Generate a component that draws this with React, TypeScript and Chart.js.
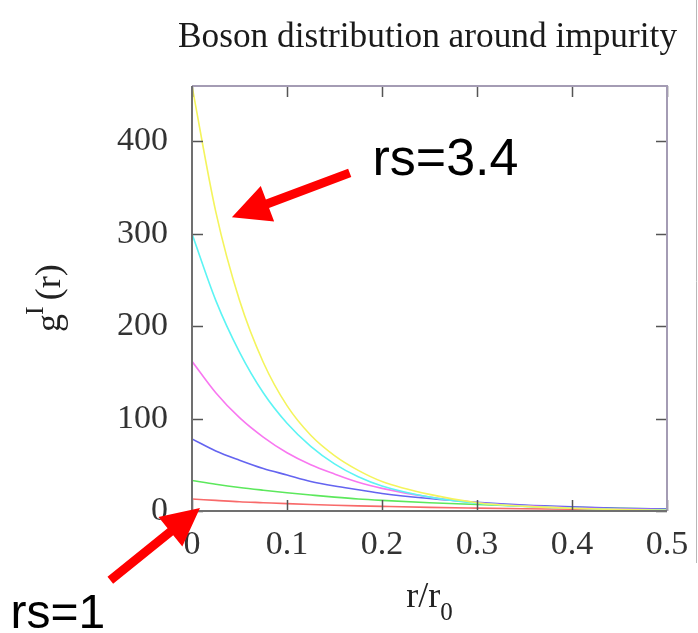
import React, { useEffect, useRef } from 'react';
import { Chart, registerables } from 'chart.js';

Chart.register(...registerables);

// ---- data ----
const rValues = [0, 0.025, 0.05, 0.075, 0.1, 0.125, 0.15, 0.175, 0.2, 0.25, 0.3, 0.35, 0.4, 0.45, 0.5];
const gYellow = [460, 324, 228, 161, 114, 82, 60, 44, 32, 18, 9, 5, 3, 1.5, 0.8];
const gCyan = [300, 228, 172, 128, 95, 70, 51, 37, 27, 15, 8.5, 5, 3, 1.7, 1];
const gMagenta = [162, 128, 101, 80, 63, 50, 40, 31, 24.5, 15, 9, 5.5, 3.3, 2, 1.2];
const gBlue = [78, 65, 55, 46, 39, 32, 27, 23, 19, 13.5, 9.5, 6.5, 4.5, 3, 2];
const gGreen = [33, 29, 25.5, 22.5, 19.7, 17.3, 15, 13, 11.5, 9, 7, 5.3, 4, 3, 2.3];
const gRed = [13, 11.5, 10, 9, 8, 7.1, 6.3, 5.6, 5, 3.9, 3.1, 2.4, 1.9, 1.5, 1.2];

const xTicks = [0, 0.1, 0.2, 0.3, 0.4, 0.5];
const yTicks = [0, 100, 200, 300, 400];

const titleText = 'Boson distribution around impurity';
const labelHigh = 'rs=3.4';
const labelLow = 'rs=1';

const series = [
  { values: gYellow, color: '#f4f45c' },
  { values: gCyan, color: '#5cf4f4' },
  { values: gMagenta, color: '#f877f0' },
  { values: gBlue, color: '#6464f0' },
  { values: gGreen, color: '#5ce85c' },
  { values: gRed, color: '#f86a6a' },
];

// annotation anchors in data units (r, g)
const arrowHigh = { tail: [0.166, 366], tip: [0.042, 318], text: [0.19, 364] };
const arrowLow = { tail: [-0.086, -75], tip: [0.0084, 3.3], text: [-0.191, -127] };

const SERIF = '"Liberation Serif", "Times New Roman", serif';
const SANS = '"Liberation Sans", Arial, sans-serif';

function drawArrow(ctx: CanvasRenderingContext2D, x1: number, y1: number, x2: number, y2: number) {
  const dx = x2 - x1, dy = y2 - y1;
  const len = Math.hypot(dx, dy);
  const ux = dx / len, uy = dy / len;
  const nx = -uy, ny = ux;
  const headLen = 38, headW = 19, shaftW = 4.5;
  const bx = x2 - ux * headLen, by = y2 - uy * headLen;
  ctx.save();
  ctx.fillStyle = '#ff0000';
  ctx.beginPath();
  ctx.moveTo(x1 + nx * shaftW, y1 + ny * shaftW);
  ctx.lineTo(bx + nx * shaftW, by + ny * shaftW);
  ctx.lineTo(bx + nx * headW, by + ny * headW);
  ctx.lineTo(x2, y2);
  ctx.lineTo(bx - nx * headW, by - ny * headW);
  ctx.lineTo(bx - nx * shaftW, by - ny * shaftW);
  ctx.lineTo(x1 - nx * shaftW, y1 - ny * shaftW);
  ctx.closePath();
  ctx.fill();
  ctx.restore();
}

const framePlugin = {
  id: 'gnuplotFrame',
  afterDraw(chart: any) {
    const { ctx, chartArea } = chart;
    const { left, right, top, bottom } = chartArea;
    const xs = chart.scales.x, ys = chart.scales.y;
    ctx.save();
    // ticks (inward)
    ctx.strokeStyle = '#555555';
    ctx.lineWidth = 1.5;
    ctx.beginPath();
    for (const v of yTicks) {
      const y = Math.round(ys.getPixelForValue(v)) + 0.5;
      ctx.moveTo(left, y); ctx.lineTo(left + 11, y);
      ctx.moveTo(right, y); ctx.lineTo(right - 11, y);
    }
    for (const v of xTicks) {
      const x = Math.round(xs.getPixelForValue(v)) + 0.5;
      ctx.moveTo(x, bottom); ctx.lineTo(x, bottom - 11);
      ctx.moveTo(x, top); ctx.lineTo(x, top + 11);
    }
    ctx.stroke();
    // frame
    ctx.lineWidth = 2;
    ctx.strokeStyle = '#a49cb4';
    ctx.beginPath();
    ctx.moveTo(left, top); ctx.lineTo(right, top); ctx.lineTo(right, bottom);
    ctx.stroke();
    ctx.strokeStyle = '#707070';
    ctx.beginPath();
    ctx.moveTo(left, top); ctx.lineTo(left, bottom); ctx.lineTo(right, bottom);
    ctx.stroke();
    // slide edge line at right
    ctx.strokeStyle = '#b8b8b8';
    ctx.lineWidth = 1;
    ctx.beginPath();
    ctx.moveTo(chart.width - 1.5, 0); ctx.lineTo(chart.width - 1.5, bottom + 52);
    ctx.stroke();
    ctx.restore();
  },
};

const textPlugin = {
  id: 'texts',
  afterDraw(chart: any) {
    const { ctx, chartArea } = chart;
    const xs = chart.scales.x, ys = chart.scales.y;
    const cx = (chartArea.left + chartArea.right) / 2;
    ctx.save();
    // title
    ctx.fillStyle = '#1a1a1a';
    ctx.font = `35.3px ${SERIF}`;
    ctx.textAlign = 'center';
    ctx.textBaseline = 'alphabetic';
    ctx.fillText(titleText, cx - 2, 47);

    // x axis title r/r0
    ctx.fillStyle = '#222222';
    ctx.textAlign = 'left';
    ctx.font = `36px ${SERIF}`;
    const main = 'r/r';
    const wMain = ctx.measureText(main).width;
    ctx.font = `25px ${SERIF}`;
    const wSub = ctx.measureText('0').width;
    const startX = cx - (wMain + wSub) / 2;
    ctx.font = `36px ${SERIF}`;
    ctx.fillText(main, startX, chartArea.bottom + 96);
    ctx.font = `25px ${SERIF}`;
    ctx.fillText('0', startX + wMain, chartArea.bottom + 109);

    // y axis title g^I (r)
    ctx.save();
    ctx.translate(60, 332);
    ctx.rotate(-Math.PI / 2);
    ctx.font = `36px ${SERIF}`;
    ctx.fillText('g', 0, 0);
    const wg = ctx.measureText('g').width;
    ctx.font = `26px ${SERIF}`;
    ctx.fillText('I', wg - 1, -17);
    const wI = ctx.measureText('I').width;
    ctx.font = `36px ${SERIF}`;
    ctx.fillText('(r)', wg + wI + 5, 0);
    ctx.restore();

    // annotations
    const px = (p: number[]) => [xs.getPixelForValue(p[0]), ys.getPixelForValue(p[1])];
    const [t1x, t1y] = px(arrowHigh.tail), [h1x, h1y] = px(arrowHigh.tip);
    drawArrow(ctx, t1x, t1y, h1x, h1y);
    const [t2x, t2y] = px(arrowLow.tail), [h2x, h2y] = px(arrowLow.tip);
    drawArrow(ctx, t2x, t2y, h2x, h2y);
    ctx.fillStyle = '#000000';
    ctx.textAlign = 'left';
    ctx.font = `52px ${SANS}`;
    const [l1x, l1y] = px(arrowHigh.text);
    ctx.fillText(labelHigh, l1x, l1y);
    ctx.font = `48px ${SANS}`;
    const [l2x, l2y] = px(arrowLow.text);
    ctx.fillText(labelLow, l2x, l2y);
    ctx.restore();
  },
};

export default function App() {
  const ref = useRef<HTMLCanvasElement | null>(null);
  useEffect(() => {
    document.body.style.margin = '0';
    const canvas = ref.current;
    if (!canvas) return;
    const chart = new Chart(canvas, {
      type: 'line',
      data: {
        datasets: series.map((s) => ({
          data: rValues.map((r, i) => ({ x: r, y: s.values[i] })),
          borderColor: s.color,
          borderWidth: 1.6,
          pointRadius: 0,
          cubicInterpolationMode: 'monotone' as const,
          fill: false,
        })),
      },
      options: {
        responsive: false,
        animation: false,
        devicePixelRatio: 1,
        layout: { padding: { top: 86, right: 31, left: 0, bottom: 0 } },
        plugins: { legend: { display: false }, tooltip: { enabled: false }, title: { display: false } },
        scales: {
          x: {
            type: 'linear',
            min: 0,
            max: 0.5,
            afterBuildTicks: (s: any) => { s.ticks = xTicks.map((v) => ({ value: v })); },
            afterFit: (s: any) => { s.height = 122; s.paddingLeft = 0; s.paddingRight = 0; },
            ticks: {
              autoSkip: false,
              maxRotation: 0,
              padding: 14,
              color: '#333333',
              font: { family: SERIF, size: 34 },
              callback: (v: any) => (Number(v) === 0 ? '0' : Number(v).toFixed(1)),
            },
            grid: { display: false, drawTicks: false },
            border: { display: false },
          },
          y: {
            type: 'linear',
            min: 0,
            max: 460,
            afterBuildTicks: (s: any) => { s.ticks = yTicks.map((v) => ({ value: v })); },
            afterFit: (s: any) => { s.width = 192; s.paddingTop = 0; s.paddingBottom = 0; },
            ticks: {
              padding: 24,
              color: '#333333',
              font: { family: SERIF, size: 34 },
            },
            grid: { display: false, drawTicks: false },
            border: { display: false },
          },
        },
      },
      plugins: [framePlugin, textPlugin],
    });
    return () => chart.destroy();
  }, []);
  return <canvas ref={ref} width={698} height={633} style={{ display: 'block' }} />;
}
